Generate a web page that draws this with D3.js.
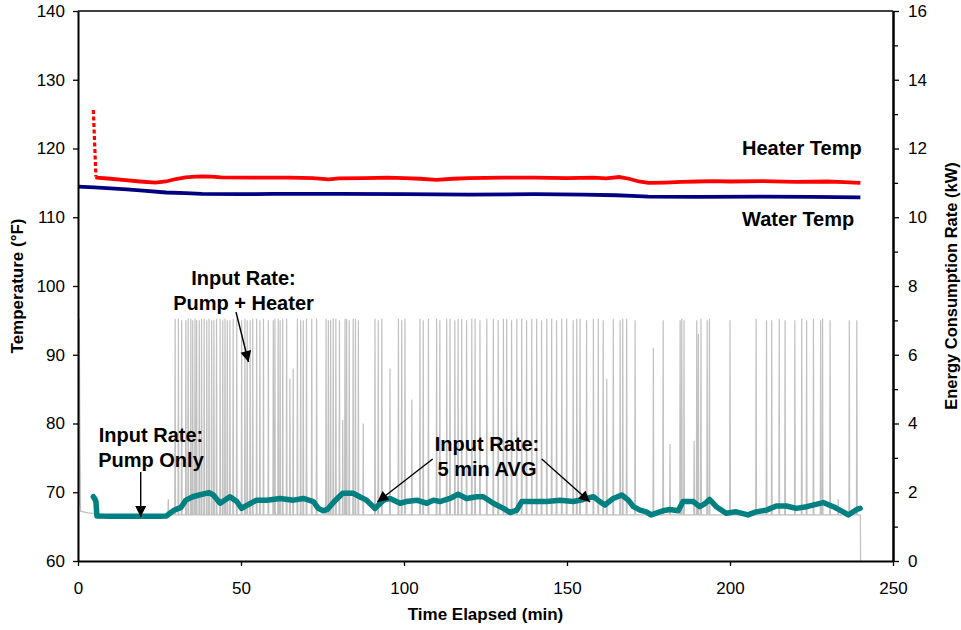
<!DOCTYPE html>
<html>
<head>
<meta charset="utf-8">
<script src="https://cdn.jsdelivr.net/npm/d3@7"></script>
<style>
  body { margin: 0; background: #fff; }
  text { font-family: "Liberation Sans", Arial, sans-serif; }
</style>
</head>
<body>
<svg id="chart" width="961" height="630"></svg>
<script>
// ---- data ----
const TIME_TICKS = [0, 50, 100, 150, 200, 250];
const TEMP_TICKS = [60, 70, 80, 90, 100, 110, 120, 130, 140];
const KW_TICKS = [0, 2, 4, 6, 8, 10, 12, 14, 16];
const KW_MINOR = [1, 3, 5, 7, 9, 11, 13, 15];

// heater temp (min, °F)
const heaterTemp = [
  [4.7,125.6],[5.5,115.9],[5.8,115.75],[10,115.6],[14.5,115.4],[19,115.2],[23.7,115.03],
  [27,115.2],[30,115.56],[33,115.8],[36,115.9],[38,115.95],[41,115.9],[44,115.8],
  [54,115.75],[65,115.75],[72,115.7],[77,115.5],[80,115.65],[88,115.7],[95,115.75],
  [100,115.7],[105,115.6],[110,115.45],[115,115.6],[120,115.7],[130,115.75],[140,115.75],
  [150,115.7],[158,115.75],[162,115.65],[166,115.85],[169,115.6],[172,115.2],[175,115.0],
  [180,115.05],[185,115.15],[190,115.2],[195,115.25],[200,115.2],[210,115.25],[220,115.15],
  [230,115.2],[235,115.1],[240,115.0]
];

// water temp (min, °F)
const waterTemp = [
  [0,114.45],[5,114.35],[10,114.2],[15,114.05],[20,113.87],[27,113.6],[33,113.5],[38,113.4],
  [50,113.35],[60,113.4],[80,113.4],[100,113.35],[120,113.3],[140,113.35],[155,113.3],
  [165,113.2],[170,113.1],[175,113.0],[190,112.95],[210,113.0],[225,112.95],[240,112.9]
];

// 5 min moving average of input rate (min, kW)
const avgRate = [
  [4.7,1.87],[5.2,1.8],[5.5,1.73],[5.8,1.31],[10,1.3],[15,1.3],[20,1.3],[25,1.3],[27.2,1.31],
  [28.2,1.39],[29.7,1.49],[31.5,1.55],[33.1,1.77],[35.2,1.87],[37.2,1.92],[40.2,1.99],
  [41.5,1.92],[43.6,1.68],[46.6,1.87],[48.7,1.73],[50.2,1.53],[52,1.63],[54.8,1.77],
  [57.9,1.77],[62,1.82],[66.1,1.77],[69.1,1.82],[72.2,1.73],[73.7,1.53],[75.2,1.46],
  [76.5,1.5],[78.6,1.73],[81.2,1.97],[84.4,1.97],[86.4,1.87],[88.5,1.77],[91.1,1.53],
  [93.7,1.77],[95.7,1.82],[98.8,1.68],[100.8,1.73],[103.9,1.77],[107,1.68],[109,1.77],
  [111,1.73],[114.1,1.82],[116.6,1.94],[119.2,1.82],[122.3,1.87],[124.3,1.87],[127.4,1.68],
  [130.5,1.53],[132.5,1.41],[134.6,1.48],[136.1,1.73],[139.7,1.73],[143.8,1.73],[147.9,1.77],
  [151.9,1.73],[155,1.79],[158.1,1.87],[159.5,1.77],[161.6,1.63],[164.2,1.82],[166.8,1.92],
  [168.8,1.77],[170.4,1.58],[172.4,1.48],[174.3,1.43],[175.8,1.34],[179.4,1.46],[181.6,1.5],
  [184.1,1.46],[185.6,1.73],[188.7,1.73],[190.7,1.58],[192.2,1.66],[193.7,1.79],[195.8,1.58],
  [198.8,1.39],[201.9,1.43],[205.5,1.34],[208,1.43],[211.2,1.48],[214.2,1.6],[217.3,1.6],
  [220.3,1.53],[223.5,1.58],[228.6,1.7],[231.7,1.58],[234.7,1.43],[236.3,1.34],[238.9,1.5],
  [239.9,1.53]
];

// raw input rate: start-up, then pump-only baseline with heater spikes
const rateLead = [[0,0],[0.15,5.6],[0.3,1.6],[0.4,7.05],[0.55,4.0],[0.8,1.45],[3,1.4],[8,1.36],[12,1.34]];
const rateTail = [[240,1.33],[240.05,0]];
const PUMP_KW = 1.34;
const spikeTimes = [
  27.7,29.8,30.8,31.8,33.1,33.8,34.6,35.2,35.9,36.4,37.2,37.9,38.7,39.5,40.2,41.0,41.7,42.5,
  43.6,44.4,45.1,45.8,46.6,47.6,48.7,50.2,51.2,51.9,52.8,53.6,54.8,55.8,56.9,58.4,59.9,60.4,
  61.4,62.0,62.8,64.0,65.0,66.0,67.3,68.3,69.1,70.1,71.7,73.2,76.1,76.8,77.5,78.3,79.1,80.2,
  81.2,81.9,82.4,83.2,84.4,85.1,86.0,87.5,91.1,92.1,93.2,95.7,98.3,99.3,100.3,102.4,104.9,
  105.9,107.5,110.0,111.0,113.1,114.1,115.6,116.6,117.7,119.2,120.8,121.8,123.3,125.4,127.4,
  128.9,130.5,131.5,133.0,134.6,136.1,137.6,139.2,140.7,142.2,143.8,145.3,146.8,148.4,149.9,
  151.9,153.0,154.0,156.0,158.1,159.6,161.1,162.2,164.2,166.3,167.1,168.3,170.9,176.5,179.5,
  181.6,184.7,185.2,185.9,189.0,189.8,190.3,191.1,193.0,193.7,200.0,208.0,211.2,212.8,215.1,
  216.9,219.9,222.0,223.5,225.6,227.8,228.4,230.7,233.2,236.6,238.9
];
const spikePeaks = [
  1.8,7.05,7.05,7.0,7.0,7.05,7.05,7.0,7.05,7.0,7.0,7.05,7.05,7.0,7.05,7.0,7.0,7.05,
  7.05,7.0,7.05,7.0,7.0,7.05,7.05,7.0,7.05,7.0,7.0,7.05,7.05,7.0,7.05,7.0,7.0,7.05,
  7.05,7.0,7.05,7.05,5.3,5.6,7.05,7.0,7.0,7.05,7.05,7.05,7.05,7.0,7.0,7.05,7.05,7.0,
  4.1,7.05,7.05,7.0,7.05,7.05,7.0,4.0,7.05,7.0,7.05,5.6,7.05,7.0,7.05,4.7,7.05,
  7.0,7.05,7.05,7.0,7.05,7.05,7.0,7.05,7.05,7.0,7.05,7.05,7.0,7.05,7.05,
  7.0,7.05,7.05,7.0,7.05,7.05,7.0,7.05,7.05,7.0,7.05,7.05,7.0,7.05,7.05,
  7.0,7.05,7.05,7.0,7.05,7.05,7.0,5.3,7.05,7.0,7.05,7.05,7.0,6.2,7.0,
  3.4,7.0,7.05,7.0,3.5,7.0,6.6,7.05,7.0,7.05,7.0,7.05,7.0,7.0,7.05,
  7.0,7.0,7.05,7.0,7.05,7.0,7.05,7.0,1.8,7.0,7.0
];

// ---- layout ----
const W = 961, H = 630;
const plot = {left: 78, right: 893, top: 11, bottom: 561};
const FONT = '"Liberation Sans", Arial, sans-serif';

const svg = d3.select('#chart');
svg.append('rect').attr('width', W).attr('height', H).attr('fill', '#fff');

const x = d3.scaleLinear().domain([0, 250]).range([plot.left, plot.right]);
const yT = d3.scaleLinear().domain([60, 140]).range([plot.bottom, plot.top]);
const yK = d3.scaleLinear().domain([0, 16]).range([plot.bottom, plot.top]);

// expand spikes into a polyline (one sample up, one back down)
let rate = rateLead.slice();
spikeTimes.forEach((t, i) => {
  rate.push([t - 0.12, PUMP_KW], [t, spikePeaks[i]], [t + 0.12, PUMP_KW]);
});
rate = rate.concat(rateTail);

const lineT = d3.line().x(d => x(d[0])).y(d => yT(d[1]));
const lineK = d3.line().x(d => x(d[0])).y(d => yK(d[1]));

const marks = svg.append('g');

marks.append('path')
  .datum(rate)
  .attr('d', lineK)
  .attr('fill', 'none')
  .attr('stroke', '#c0c0c0')
  .attr('stroke-width', 1.2);

marks.append('path')
  .datum(avgRate)
  .attr('d', lineK)
  .attr('fill', 'none')
  .attr('stroke', '#008080')
  .attr('stroke-width', 5.5)
  .attr('stroke-linejoin', 'round')
  .attr('stroke-linecap', 'round');

marks.append('path')
  .datum(waterTemp)
  .attr('d', lineT)
  .attr('fill', 'none')
  .attr('stroke', '#000080')
  .attr('stroke-width', 3.8);

// the first drop of the heater line shows up dashed
marks.append('path')
  .datum(heaterTemp.slice(0, 2))
  .attr('d', lineT)
  .attr('fill', 'none')
  .attr('stroke', '#ff0000')
  .attr('stroke-width', 3.2)
  .attr('stroke-dasharray', '4,2.5');
marks.append('path')
  .datum(heaterTemp.slice(1))
  .attr('d', lineT)
  .attr('fill', 'none')
  .attr('stroke', '#ff0000')
  .attr('stroke-width', 3.8);

// ---- axes ----
function styleAxis(g, size) {
  g.select('.domain').attr('stroke', '#000').attr('stroke-width', 2);
  g.selectAll('.tick line').attr('stroke', '#000').attr('stroke-width', 1.3);
  g.selectAll('.tick text')
    .attr('fill', '#000')
    .style('font-family', FONT)
    .style('font-size', size + 'px');
}

// top border
svg.append('line')
  .attr('x1', plot.left).attr('x2', plot.right)
  .attr('y1', plot.top).attr('y2', plot.top)
  .attr('stroke', '#000').attr('stroke-width', 1.3);

const ax = svg.append('g')
  .attr('transform', `translate(0,${plot.bottom})`)
  .call(d3.axisBottom(x).tickValues(TIME_TICKS).tickSize(5).tickSizeOuter(0).tickPadding(16));
styleAxis(ax, 17);

const al = svg.append('g')
  .attr('transform', `translate(${plot.left},0)`)
  .call(d3.axisLeft(yT).tickValues(TEMP_TICKS).tickSize(5).tickSizeOuter(0).tickPadding(8));
styleAxis(al, 17);

const arMinor = svg.append('g')
  .attr('transform', `translate(${plot.right},0)`)
  .call(d3.axisRight(yK).tickValues(KW_MINOR).tickSize(5).tickSizeOuter(0).tickFormat(''));
styleAxis(arMinor, 17);

const ar = svg.append('g')
  .attr('transform', `translate(${plot.right},0)`)
  .call(d3.axisRight(yK).tickValues(KW_TICKS).tickSize(6).tickSizeOuter(0).tickPadding(9));
styleAxis(ar, 17);

// axis titles
svg.append('text')
  .attr('x', (plot.left + plot.right) / 2)
  .attr('y', 620)
  .attr('text-anchor', 'middle')
  .attr('font-weight', 'bold')
  .attr('font-size', 17)
  .text('Time Elapsed (min)');

svg.append('text')
  .attr('transform', `translate(23,${(plot.top + plot.bottom) / 2}) rotate(-90)`)
  .attr('text-anchor', 'middle')
  .attr('font-weight', 'bold')
  .attr('font-size', 17)
  .text('Temperature (°F)');

svg.append('text')
  .attr('transform', `translate(957,${(plot.top + plot.bottom) / 2}) rotate(-90)`)
  .attr('text-anchor', 'middle')
  .attr('font-weight', 'bold')
  .attr('font-size', 16.5)
  .text('Energy Consumption Rate (kW)');

// ---- annotations ----
const defs = svg.append('defs');
defs.append('marker')
  .attr('id', 'head')
  .attr('viewBox', '0 0 10 10')
  .attr('refX', 10).attr('refY', 5)
  .attr('markerUnits', 'userSpaceOnUse')
  .attr('markerWidth', 12).attr('markerHeight', 11)
  .attr('orient', 'auto')
  .append('path')
  .attr('d', 'M0,0 L10,5 L0,10 Z')
  .attr('fill', '#000');

const labels = [
  {lines: ['Heater Temp'], x: 742, y: 155, anchor: 'start'},
  {lines: ['Water Temp'], x: 742, y: 226, anchor: 'start'},
  {lines: ['Input Rate:', 'Pump + Heater'], x: 243.5, y: 285, anchor: 'middle'},
  {lines: ['Input Rate:', 'Pump Only'], x: 151, y: 442, anchor: 'middle'},
  {lines: ['Input Rate:', '5 min AVG'], x: 487, y: 451, anchor: 'middle'}
];
labels.forEach(l => {
  const t = svg.append('text')
    .attr('text-anchor', l.anchor)
    .attr('font-weight', 'bold')
    .attr('font-size', 20)
    .attr('fill', '#000');
  l.lines.forEach((s, i) => {
    t.append('tspan').attr('x', l.x).attr('y', l.y + i * 24.5).text(s);
  });
});

// arrows: [from, to] in pixels
const arrows = [
  [[236, 312], [248.5, 362]],
  [[140.7, 472], [140.7, 517]],
  [[432.7, 459], [377.3, 502]],
  [[541.7, 459], [590, 502]]
];
arrows.forEach(a => {
  svg.append('line')
    .attr('x1', a[0][0]).attr('y1', a[0][1])
    .attr('x2', a[1][0]).attr('y2', a[1][1])
    .attr('stroke', '#000')
    .attr('stroke-width', 1.4)
    .attr('marker-end', 'url(#head)');
});
</script>
</body>
</html>
